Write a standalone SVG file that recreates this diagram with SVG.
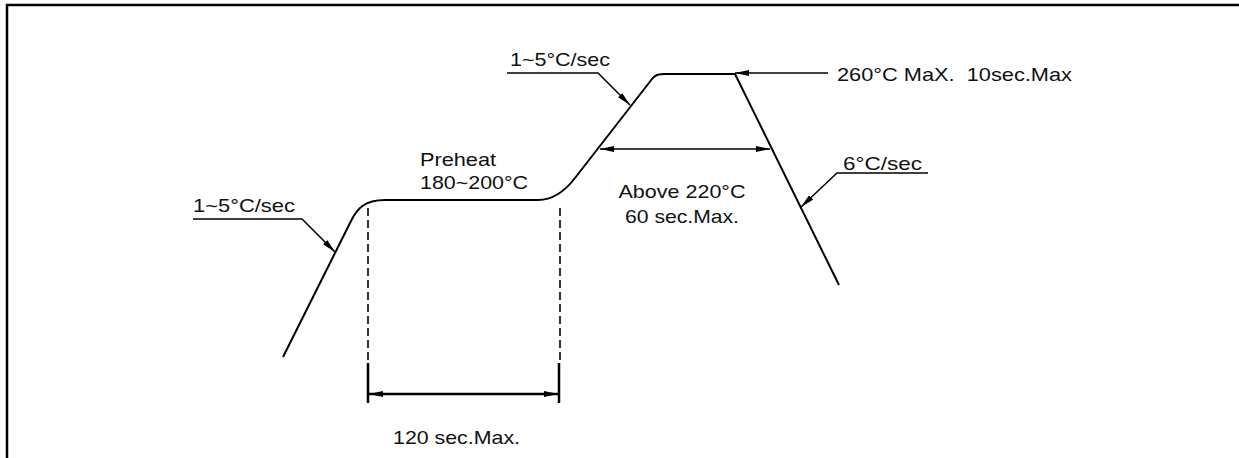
<svg xmlns="http://www.w3.org/2000/svg" width="1239" height="458" viewBox="0 0 1239 458">
<style>
.t{font-family:"Liberation Sans",Arial,sans-serif;font-size:19px;fill:#111;white-space:pre}
.ln{fill:none;stroke:#000;stroke-width:2}
.ld{fill:none;stroke:#000;stroke-width:1.5}
.dim{fill:none;stroke:#000;stroke-width:2.5}
.dash{fill:none;stroke:#000;stroke-width:1.6;stroke-dasharray:8,4}
</style>
<defs>
<marker id="ah" viewBox="0 0 14 6" refX="14" refY="3" markerWidth="14" markerHeight="6" markerUnits="userSpaceOnUse" orient="auto-start-reverse">
<path d="M0,0 L14,3 L0,6 Z" fill="#000"/>
</marker>
</defs>
<rect width="1239" height="458" fill="#fff"/>
<g id="frame">
<path d="M7,458 L7,5 L1239,5" fill="none" stroke="#000" stroke-width="2.5"/>
</g>
<g id="profile">
<path class="ln" d="M283,357 L351,221 C357,209 364,200 385,200 L538,200 C552,200 565,191 575,178 L652,79 C655,75 658,74 665,74 L735,74 L839,285"/>
</g>
<g id="connectors">
<path class="ld" d="M193,219 L302,219 L335,252" marker-end="url(#ah)"/>
<path class="ld" d="M507,73 L598,73 L630,105" marker-end="url(#ah)"/>
<path class="ld" d="M828,73 L735,73" marker-end="url(#ah)"/>
<path class="ld" d="M928,173 L837,173 L801,207" marker-end="url(#ah)"/>
<path class="ld" d="M600,149 L770,149" marker-start="url(#ah)" marker-end="url(#ah)"/>
<path class="dash" d="M368,208 L368,363"/>
<path class="dash" d="M560,208 L560,363"/>
<path class="dim" d="M368,363 L368,403 M559,363 L559,403"/>
<path class="dim" d="M369,394 L558,394" marker-start="url(#ah)" marker-end="url(#ah)"/>
</g>
<g id="labels">
<text class="t" x="193" y="212" textLength="102" lengthAdjust="spacingAndGlyphs">1~5°C/sec</text>
<text class="t" x="420" y="166" textLength="76" lengthAdjust="spacingAndGlyphs">Preheat</text>
<text class="t" x="420" y="189" textLength="108" lengthAdjust="spacingAndGlyphs">180~200°C</text>
<text class="t" x="510" y="66" textLength="100" lengthAdjust="spacingAndGlyphs">1~5°C/sec</text>
<text class="t" x="837" y="81" textLength="235" lengthAdjust="spacingAndGlyphs">260°C MaX.  10sec.Max</text>
<text class="t" x="682" y="198" text-anchor="middle" textLength="127" lengthAdjust="spacingAndGlyphs">Above 220°C</text>
<text class="t" x="682" y="223" text-anchor="middle" textLength="114" lengthAdjust="spacingAndGlyphs">60 sec.Max.</text>
<text class="t" x="843" y="170" textLength="79" lengthAdjust="spacingAndGlyphs">6°C/sec</text>
<text class="t" x="393" y="444" textLength="127" lengthAdjust="spacingAndGlyphs">120 sec.Max.</text>
</g>
</svg>
